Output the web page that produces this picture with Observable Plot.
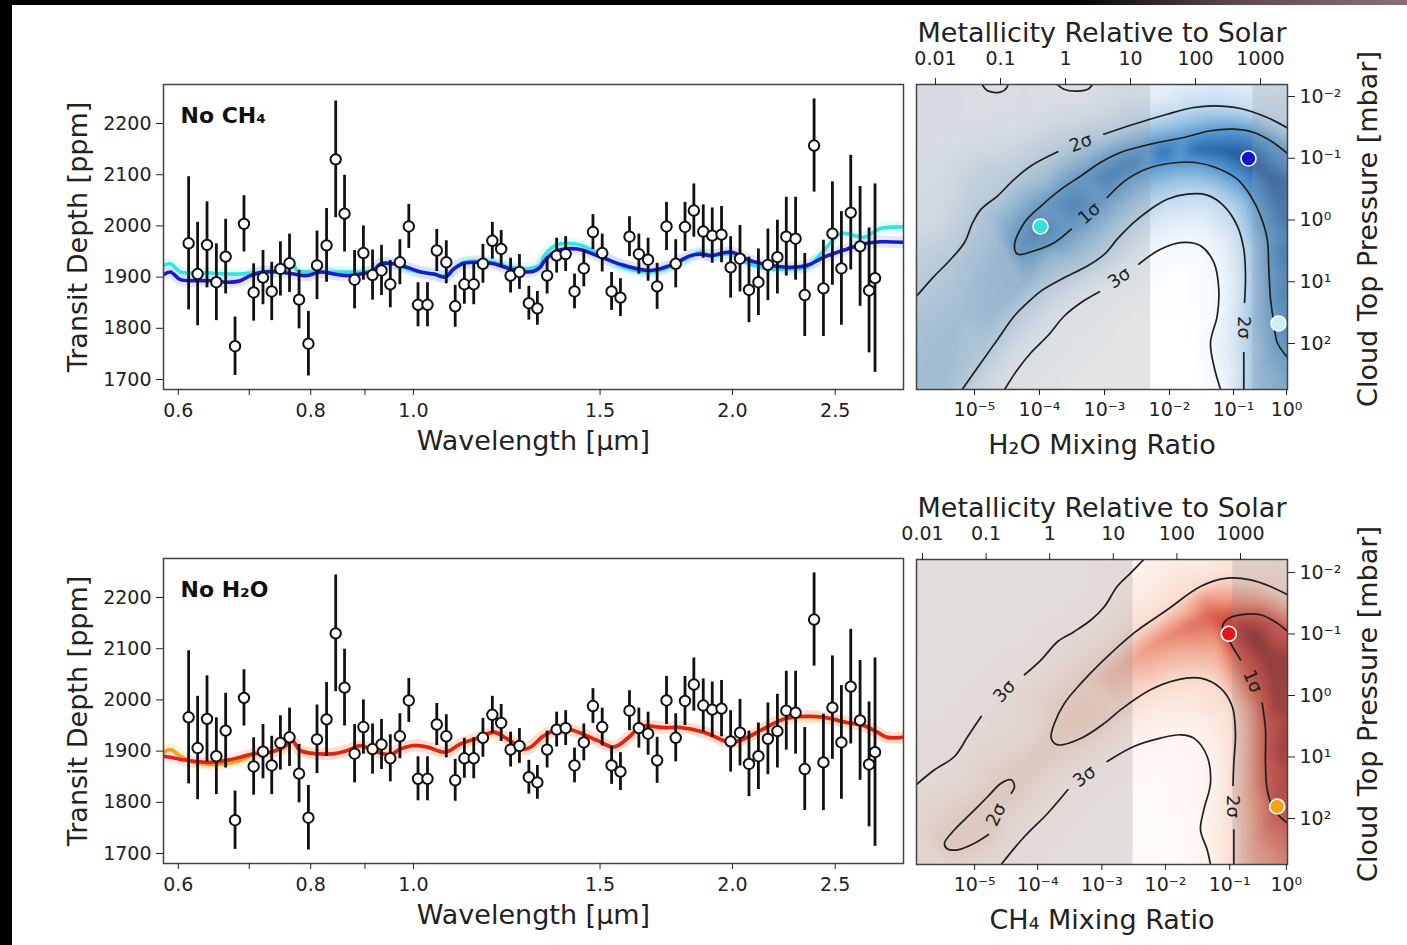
<!DOCTYPE html>
<html><head><meta charset="utf-8">
<script src="https://cdn.jsdelivr.net/npm/d3@7"></script>
<script src="https://cdn.jsdelivr.net/npm/@observablehq/plot@0.6"></script>
<style>
html,body{margin:0;padding:0;background:#000;width:1407px;height:945px;overflow:hidden;}
#page{position:absolute;left:12px;top:5px;width:1395px;height:940px;background:#fff;}
#topstrip{position:absolute;left:0;top:0;width:1407px;height:5px;background:linear-gradient(to right,#000 0%,#000 76%,#5e4a4e 88%,#8a7074 100%);}
.panel{position:absolute;}
.panel svg{overflow:visible;}
</style></head><body>
<div id="topstrip"></div><div id="page"></div>
<div id="tl" class="panel" style="left:40px;top:60px"></div>
<div id="bl" class="panel" style="left:40px;top:534px"></div>
<div id="tr" class="panel" style="left:905px;top:10px"></div>
<div id="br" class="panel" style="left:905px;top:484px"></div>
<script>
// ---------------- observed spectrum ----------------
const wavelength = [0.6136,0.6257,0.6386,0.6517,0.6650,0.6787,0.6920,0.7067,0.7212,0.7350,
 0.7490,0.7640,0.7800,0.7960,0.8110,0.8280,0.8446,0.8610,0.8800,0.8970,
 0.9150,0.9330,0.9510,0.9710,0.9900,1.0100,1.0310,1.0520,1.0740,1.0950,
 1.1170,1.1400,1.1630,1.1870,1.2100,1.2350,1.2590,1.2850,1.3090,1.3370,
 1.3650,1.3920,1.4190,1.4480,1.4770,1.5070,1.5380,1.5680,1.5990,1.6320,
 1.6650,1.6980,1.7330,1.7680,1.8040,1.8390,1.8770,1.9140,1.9530,1.9920,
 2.0330,2.0730,2.1160,2.1600,2.2050,2.2480,2.2940,2.3400,2.3880,2.4370,
 2.4850,2.5340,2.5860,2.6390,2.6910,2.7260];
const transitDepth = [1966,1906,1963,1890,1940,1765,2004,1870,1899,1872,
 1916,1927,1856,1770,1923,1962,2130,2024,1895,1947,
 1904,1913,1886,1929,1999,1846,1846,1952,1929,1843,
 1886,1886,1926,1971,1955,1903,1910,1849,1839,1903,
 1942,1945,1872,1917,1988,1947,1872,1860,1979,1945,
 1934,1882,1999,1926,1998,2030,1989,1981,1983,1919,
 1936,1875,1890,1924,1939,1979,1975,1865,2157,1878,
 1985,1917,2026,1960,1874,1898];
const depthError = [130,101,84,75,73,57,55,56,53,57,
 53,57,57,63,67,72,114,75,57,53,
 49,49,46,44,43,43,43,41,42,41,
 39,40,38,36,36,34,34,33,33,36,
 34,34,34,36,34,37,37,37,39,39,
 42,45,47,47,48,52,52,54,55,60,
 65,64,65,70,72,77,81,81,91,94,
 101,111,112,117,122,184];

// ---------------- model spectra [wavelength, depth] ----------------
const modelNoCH4Blue = [[0.577,1900],[0.5896,1910],[0.6026,1895],[0.6203,1893],[0.6432,1893],[0.667,1890],[0.6865,1893],[0.7017,1903],[0.7222,1910],[0.7489,1910],[0.771,1906],[0.7937,1903],[0.817,1910],[0.841,1906],[0.8657,1903],[0.8912,1906],[0.9174,1913],[0.9308,1926],[0.958,1926],[0.9863,1919],[1.0153,1910],[1.045,1906],[1.072,1900],[1.0917,1916],[1.1156,1927],[1.1568,1929],[1.1908,1926],[1.2347,1916],[1.2803,1910],[1.300,1912],[1.318,1920],[1.3275,1930],[1.3617,1950],[1.4274,1955],[1.4908,1942],[1.5796,1923],[1.674,1913],[1.748,1923],[1.826,1942],[1.866,1945],[1.907,1942],[1.992,1949],[2.080,1932],[2.173,1923],[2.2695,1919],[2.353,1923],[2.44,1939],[2.567,1955],[2.6615,1965],[2.76,1969],[2.893,1968]];
const modelNoCH4Cyan = [[0.577,1919],[0.5896,1926],[0.6026,1910],[0.6203,1908],[0.6432,1908],[0.667,1906],[0.6865,1906],[0.7017,1908],[0.7222,1910],[0.7489,1913],[0.760,1916],[0.768,1929],[0.777,1913],[0.7937,1910],[0.817,1910],[0.841,1910],[0.8657,1910],[0.8912,1910],[0.9174,1913],[0.9308,1926],[0.958,1926],[0.9863,1916],[1.0153,1910],[1.045,1906],[1.072,1903],[1.0917,1916],[1.1156,1929],[1.1568,1932],[1.1908,1929],[1.2347,1919],[1.2803,1916],[1.318,1925],[1.3275,1940],[1.3617,1962],[1.4274,1964],[1.4908,1947],[1.5796,1919],[1.674,1910],[1.748,1920],[1.826,1940],[1.866,1949],[1.907,1942],[1.992,1945],[2.080,1925],[2.173,1916],[2.2695,1916],[2.353,1920],[2.44,1952],[2.53,1985],[2.66,1978],[2.76,1995],[2.893,1998]];
const modelNoH2ORed = [[0.577,1891],[0.5896,1888],[0.6114,1882],[0.6432,1878],[0.667,1882],[0.6865,1888],[0.7067,1895],[0.7328,1898],[0.7543,1908],[0.768,1921],[0.7822,1901],[0.811,1895],[0.841,1895],[0.8657,1901],[0.8912,1911],[0.9174,1901],[0.951,1893],[0.972,1904],[1.0007,1911],[1.0302,1908],[1.072,1898],[1.1076,1914],[1.1485,1925],[1.1908,1937],[1.226,1924],[1.271,1904],[1.29,1908],[1.318,1925],[1.3275,1930],[1.3766,1944],[1.417,1940],[1.4908,1921],[1.5457,1908],[1.6027,1930],[1.638,1948],[1.7233,1946],[1.7868,1946],[1.8797,1937],[1.992,1917],[2.0656,1927],[2.1415,1944],[2.2368,1963],[2.353,1968],[2.44,1966],[2.567,1956],[2.6615,1950],[2.74,1937],[2.80,1927],[2.893,1927]];
const modelNoH2OOrange = [[0.577,1893],[0.5896,1903],[0.6026,1890],[0.6203,1878],[0.6432,1874],[0.667,1876],[0.6865,1882],[0.7067,1893],[0.7328,1898],[0.7543,1906],[0.768,1918],[0.7822,1901],[0.811,1895],[0.841,1895],[0.8657,1901],[0.8912,1910],[0.9174,1901],[0.951,1893],[0.972,1904],[1.0007,1911],[1.0302,1908],[1.072,1898],[1.1076,1914],[1.1485,1925],[1.1908,1936],[1.226,1924],[1.271,1904],[1.29,1908],[1.318,1925],[1.3275,1930],[1.3766,1944],[1.417,1940],[1.4908,1921],[1.5457,1908],[1.6027,1930],[1.638,1948],[1.7233,1946],[1.7868,1946],[1.8797,1937],[1.992,1917],[2.0656,1927],[2.1415,1944],[2.2368,1962],[2.353,1967],[2.44,1965],[2.567,1955],[2.6615,1949],[2.74,1936],[2.80,1926],[2.893,1926]];

// ---------------- spectrum axes ----------------
const specXTicks = [0.6,0.7,0.8,0.9,1.0,1.5,2.0,2.5];
const specXTickLabels = ["0.6","","0.8","","1.0","1.5","2.0","2.5"];
const specYTicks = [1700,1800,1900,2000,2100,2200];

// ---------------- posterior panels: x = log10 metallicity, y = log10 cloud-top pressure ----------------
const metalTicks = [-2,-1,0,1,2,3];
const metalTickLabels = ["0.01","0.1","1","10","100","1000"];
const pressureTicks = [-2,-1,0,1,2];
const pressureTickLabels = ["10⁻²","10⁻¹","10⁰","10¹","10²"];
const mixTickLabels = ["10⁻⁵","10⁻⁴","10⁻³","10⁻²","10⁻¹","10⁰"];
const h2oMixTicks = [-1.40,-0.40,0.60,1.60,2.585,3.40];
const ch4MixTicks = [-1.18,-0.19,0.82,1.82,2.83,3.72];
const priorBandEdges = [1.31, 2.88];

// H2O contours (segments of [logZ, logP]); level in sigma
const h2oContours = [
 {level:2, pts:[[-2.292,1.235],[-2.015,0.904],[-1.811,0.688],[-1.554,0.364],[-1.426,0.040],[-1.297,-0.175],[-1.042,-0.392],[-0.785,-0.661],[-0.528,-0.878],[-0.118,-1.104]]},
 {level:2, pts:[[0.589,-1.389],[1.051,-1.551],[1.565,-1.713],[1.974,-1.822],[2.282,-1.849],[2.692,-1.806],[3.103,-1.660],[3.415,-1.490]]},
 {level:1, pts:[[3.415,-1.077],[3.154,-1.283],[2.897,-1.417],[2.589,-1.470],[2.231,-1.445],[1.820,-1.336],[1.308,-1.228],[0.846,-1.093],[0.538,-0.931],[0.242,-0.716],[-0.066,-0.499],[-0.374,-0.230],[-0.631,0.040],[-0.785,0.418],[-0.734,0.554],[-0.477,0.499],[-0.169,0.364],[0.088,0.149]]},
 {level:1, pts:[[0.642,-0.364],[0.949,-0.661],[1.308,-0.850],[1.718,-0.931],[2.000,-0.931],[2.308,-0.850],[2.642,-0.661],[2.846,-0.392],[3.000,-0.068],[3.103,0.311],[3.128,0.797],[3.154,1.283],[3.205,1.660],[3.257,1.984],[3.415,2.227]]},
 {level:2, pts:[[-1.59,2.745],[-1.297,2.308],[-1.042,1.930],[-0.785,1.551],[-0.580,1.336],[-0.374,1.147],[-0.015,0.931],[0.343,0.742],[0.600,0.554],[0.795,0.311],[1.051,0.040],[1.308,-0.175],[1.565,-0.337],[1.872,-0.418],[2.180,-0.402],[2.435,-0.230],[2.642,0.094],[2.743,0.473],[2.769,0.904],[2.754,1.336]]},
 {level:2, pts:[[2.743,2.146],[2.743,2.745]]},
 {level:3, pts:[[-0.938,2.745],[-0.734,2.416],[-0.528,2.146],[-0.272,1.875],[-0.015,1.551],[0.242,1.336],[0.523,1.163]]},
 {level:3, pts:[[1.128,0.716],[1.462,0.473],[1.820,0.364],[2.077,0.418],[2.282,0.688],[2.358,1.121],[2.334,1.551],[2.231,1.984],[2.282,2.361],[2.385,2.745]]},
 {level:3, pts:[[-1.282,-2.194],[-1.205,-2.097],[-1.0,-2.070],[-0.897,-2.151],[-0.888,-2.194]]},
 {level:3, pts:[[-0.128,-2.194],[-0.026,-2.118],[0.180,-2.086],[0.358,-2.125],[0.411,-2.194]]}
];
// extra density knots [logZ, logP, sigma]
const h2oKnots = [
 [-2.4,-2.3,2.9],[-2.4,-1.0,2.8],[-2.4,0.3,2.5],[-2.4,1.25,2.0],[-2.4,2.0,1.75],[-2.4,2.85,1.7],
 [-1.9,2.85,1.7],[-1.25,2.85,2.5],[0,2.85,3.5],[1.0,2.85,3.6],[2.0,2.85,3.6],[2.56,2.85,2.5],[3.0,2.85,1.5],[3.5,2.85,1.2],
 [3.5,-2.3,2.5],[3.5,-1.49,2.0],[3.5,-1.077,1.0],[3.5,-0.6,0.3],[3.5,0.3,0.4],[3.5,1.2,0.55],[3.5,2.227,1.0],
 [-1.6,-2.3,2.9],[-1.09,-2.3,3.3],[-0.6,-2.3,2.9],[0.14,-2.3,3.3],[0.8,-2.3,2.9],[1.6,-2.3,2.7],[2.4,-2.3,2.6],
 [-1.8,-1.2,2.8],[-0.8,-1.5,2.8],[0.3,-1.8,2.7],[1.5,-2.0,2.5],[2.8,-2.05,2.4],[-2.0,0.0,2.6],
 [-0.62,0.38,0.75],[-0.4,0.12,0.5],[0.1,-0.23,0.5],[0.6,-0.66,0.45],[1.0,-0.9,0.45],[1.5,-1.07,0.35],[2.0,-1.15,0.3],[2.5,-1.12,0.15],[2.85,-0.98,0.0],[3.15,-0.7,0.1],[3.28,-0.2,0.3],[3.3,0.5,0.45],[3.3,1.2,0.55],[3.33,1.9,0.75],
 [-0.2,0.6,1.5],[0.5,0.2,1.5],[1.2,-0.45,1.5],[2.0,-0.67,1.5],[2.75,-0.3,1.5],[2.95,0.5,1.45],[2.95,1.5,1.45],[2.98,2.4,1.5],
 [-0.9,0.5,1.5],[-0.3,-0.56,1.5],[0.4,-1.07,1.5],[1.3,-1.43,1.5],[2.2,-1.65,1.5],[3.0,-1.53,1.5],
 [-1.8,2.3,1.65],[-1.2,1.6,1.6],[-1.6,1.5,1.7],[-0.6,1.0,1.5],
 [-1.2,2.6,2.5],[-0.5,1.68,2.5],[0.4,0.95,2.5],[1.3,0.2,2.5],[2.1,0.0,2.5],[2.52,0.7,2.5],[2.52,1.6,2.5],[2.55,2.45,2.5],
 [0.3,2.4,3.5],[1.2,1.5,3.55],[1.8,0.9,3.5],[1.9,2.0,3.6],[0.9,2.7,3.6]
];
const h2oLabels = [
 {u:0.235, lp:-1.247, t:"2σ", a:-21},{u:0.365, lp:-0.107, t:"1σ", a:-41},
 {u:0.826, lp:0.939, t:"3σ", a:-35},{u:2.746, lp:1.741, t:"2σ", a:90}
];
const h2oDots = [
 {u:-0.385, lp:0.105, c:"#38e2dc"},{u:2.815, lp:-0.996, c:"#1414d0"},{u:3.277, lp:1.676, c:"#cdeff1"}
];

// CH4 contours
const ch4Contours = [
 {level:3, pts:[[-2.094,1.447],[-1.811,1.208],[-1.497,0.992],[-1.288,0.667],[-1.077,0.341]]},
 {level:3, pts:[[-0.396,-0.337],[-0.134,-0.580],[0.127,-0.878],[0.390,-1.041],[0.653,-1.231],[0.862,-1.447],[1.061,-1.772],[1.270,-1.989],[1.480,-2.211]]},
 {level:2, pts:[[3.739,-1.637],[3.472,-1.772],[3.157,-1.881],[2.791,-1.907],[2.371,-1.772],[1.848,-1.393],[1.322,-1.013],[0.799,-0.525],[0.495,-0.200],[0.233,0.125],[0.075,0.450],[0.024,0.694],[0.127,0.802],[0.495,0.694],[0.862,0.450],[1.113,0.233],[1.585,-0.093],[2.005,-0.255],[2.371,-0.281],[2.686,-0.119],[2.870,0.179],[2.921,0.613],[2.895,1.101],[2.882,1.463]]},
 {level:2, pts:[[2.895,2.184],[2.895,2.748]]},
 {level:3, pts:[[-0.763,2.748],[-0.396,2.293],[-0.030,1.914],[0.285,1.533]]},
 {level:3, pts:[[0.904,1.073],[1.322,0.829],[1.742,0.694],[2.057,0.639],[2.266,0.694],[2.476,0.992],[2.528,1.426],[2.423,1.859],[2.371,2.184],[2.476,2.509],[2.528,2.748]]},
 {level:1, pts:[[3.739,-1.041],[3.577,-1.176],[3.314,-1.312],[3.0,-1.312],[2.811,-1.252],[2.717,-1.122],[2.843,-0.850],[3.0,-0.580]]},
 {level:1, pts:[[3.341,0.125],[3.393,0.558],[3.393,1.101],[3.420,1.533],[3.524,1.859],[3.739,2.076]]},
 {level:2, pts:[[-0.962,2.260],[-1.182,2.402],[-1.445,2.509],[-1.607,2.496],[-1.654,2.402],[-1.497,2.184],[-1.234,1.914],[-0.973,1.642],[-0.763,1.426],[-0.605,1.371],[-0.553,1.480],[-0.605,1.589]]}
];
const ch4Knots = [
 [-2.2,-2.3,3.5],[-2.2,-1.0,3.5],[-2.2,0.5,3.3],[-2.2,2.1,2.7],[-2.2,2.85,2.6],
 [-1.0,-2.3,3.5],[0.4,-2.3,3.4],[2.0,-2.3,2.6],[2.8,-2.3,2.4],[3.8,-2.3,2.4],
 [3.8,-1.3,1.5],[3.8,-0.6,0.25],[3.8,0.3,0.35],[3.8,1.2,0.5],[3.8,2.85,1.3],
 [-1.5,2.85,2.6],[0.2,2.85,3.5],[1.2,2.85,3.6],[2.0,2.85,3.5],[2.7,2.85,2.5],[3.3,2.85,1.5],
 [-1.5,-0.5,3.5],[-0.5,-1.2,3.5],[0.5,-1.8,3.4],[-1.8,0.5,3.3],
 [1.5,-1.7,2.5],[2.4,-2.05,2.4],[0.6,-0.75,2.5],[-0.3,-0.1,2.6],[-0.3,0.6,2.6],[-1.3,1.4,2.7],[-1.9,2.55,2.6],[-1.0,2.7,2.6],[0.6,1.0,2.5],
 [-1.2,2.15,2.0],[-0.85,1.8,2.05],
 [0.15,0.55,1.95],[0.5,0.25,1.9],[1.0,-0.35,1.7],[1.5,-0.75,1.45],[2.0,-1.05,1.3],[2.5,-1.3,1.15],[2.4,-1.6,1.5],[3.2,-1.58,1.5],[2.65,-0.8,1.5],[3.15,0.5,1.5],[3.15,1.5,1.5],[3.2,2.5,1.5],
 [3.0,-1.15,0.4],[3.2,-0.95,0.0],[3.45,-0.6,0.15],[3.55,0.2,0.3],[3.6,1.0,0.4],[3.62,1.7,0.6],
 [2.0,0.2,2.5],[1.2,0.5,2.5],[2.69,1.5,2.5],[2.65,2.5,2.5],
 [1.0,1.8,3.5],[1.7,1.3,3.5],[2.1,2.2,3.6],[0.5,2.5,3.5]
];
const ch4Labels = [
 {u:-0.711, lp:-0.065, t:"3σ", a:-48},{u:-0.841, lp:1.94, t:"2σ", a:-65},
 {u:0.547, lp:1.317, t:"3σ", a:-37},{u:2.874, lp:1.805, t:"2σ", a:90},{u:3.19, lp:-0.23, t:"1σ", a:66}
];
const ch4Dots = [{u:2.816, lp:-1.003, c:"#e3141c"},{u:3.577, lp:1.805, c:"#f2a516"}];

const sigmaLevels = [0,0.5,1,1.5,2,2.5,3,3.6];
const bluesRange = ["#1a4f8f","#3a7dbf","#5b9bd0","#94c0e2","#c2daef","#e2edf7","#f3f8fc","#ffffff"];
const redsRange = ["#7d1a1e","#b52d29","#d44a3b","#f0a08a","#f9dccf","#fcebe3","#fdf4ef","#fffaf8"];

const FONT = "DejaVu Sans";
const INK = "#222";

function spectrumPanel({models, tag, height, marginBottom}) {
  const spectrum = wavelength.map((w, i) => ({w, d: transitDepth[i], e: depthError[i]}));
  const marks = [];
  for (const m of models) marks.push(Plot.line(m.data, {x: d => d[0], y: d => d[1], stroke: m.band, strokeOpacity: 0.28, strokeWidth: 12, curve: "catmull-rom", clip: "frame"}));
  for (const m of models) marks.push(Plot.line(m.data, {x: d => d[0], y: d => d[1], stroke: m.color, strokeWidth: 3.6, curve: "catmull-rom", clip: "frame"}));
  marks.push(
    Plot.ruleX(spectrum, {x: "w", y1: d => d.d - d.e, y2: d => d.d + d.e, stroke: "#111", strokeWidth: 2.8}),
    Plot.dot(spectrum, {x: "w", y: "d", r: 5.2, fill: "white", stroke: "#111", strokeWidth: 2}),
    Plot.frame({stroke: "#444", strokeWidth: 1.5}),
    Plot.axisY({ticks: specYTicks, tickSize: 7, tickPadding: 5, label: null, tickFormat: d => String(d), fontSize: 19}),
    Plot.axisX({ticks: specXTicks, tickSize: 6, tickPadding: 8, label: null, tickFormat: d => specXTickLabels[specXTicks.indexOf(d)], fontSize: 19}),
    Plot.text([tag], {text: d => d, frameAnchor: "top-left", dx: 17, dy: 31, textAnchor: "start", lineAnchor: "middle", fontWeight: "bold", fontSize: 22, fill: "#111"}),
    Plot.text(["Transit Depth [ppm]"], {text: d => d, frameAnchor: "left", dx: -85, rotate: -90, textAnchor: "middle", lineAnchor: "middle", fontSize: 27, fill: INK}),
    Plot.text(["Wavelength [μm]"], {text: d => d, frameAnchor: "bottom", dy: 52, textAnchor: "middle", lineAnchor: "middle", fontSize: 27, fill: INK})
  );
  return Plot.plot({
    width: 880, height, marginLeft: 123, marginRight: 17, marginTop: 24, marginBottom,
    style: {fontFamily: FONT, fontSize: "19px", background: "transparent", overflow: "visible", color: INK},
    x: {type: "log", domain: [0.581, 2.90]},
    y: {domain: [1680.5, 2276.2]},
    marks
  });
}

function posteriorPanel({contours, knots, labels, dots, colors, mixTicks, xLabel, domainX, domainY, height, marginTop, marginBottom, grey, greyOpacity}) {
  const samples = knots.slice();
  const lines = [];
  contours.forEach((c, id) => c.pts.forEach(p => { samples.push([p[0], p[1], c.level]); lines.push({u: p[0], lp: p[1], id}); }));
  const rects = [{a: domainX[0], b: priorBandEdges[0]}, {a: priorBandEdges[1], b: domainX[1]}];
  const marks = [
    Plot.raster(samples, {x: d => d[0], y: d => d[1], fill: d => d[2], interpolate: "barycentric", x1: domainX[0], x2: domainX[1], y1: domainY[0], y2: domainY[1], blur: 3}),
    Plot.rect(rects, {x1: "a", x2: "b", y1: domainY[0], y2: domainY[1], fill: grey, fillOpacity: greyOpacity}),
    Plot.line(lines, {x: "u", y: "lp", z: "id", stroke: "#1e1e1e", strokeWidth: 1.7, curve: "catmull-rom", clip: "frame"}),
    Plot.text(labels, {x: "u", y: "lp", text: "t", rotate: "a", fontSize: 18, fill: "#1e1e1e"}),
    ...dots.map(d => Plot.dot([d], {x: "u", y: "lp", r: 7.5, fill: d.c, stroke: "white", strokeWidth: 1.6, clip: "frame"})),
    Plot.frame({stroke: "#444", strokeWidth: 1.5}),
    Plot.axisX({anchor: "top", ticks: metalTicks, tickFormat: d => metalTickLabels[metalTicks.indexOf(d)], tickSize: 7, tickPadding: 13, label: null, fontSize: 19}),
    Plot.axisX({anchor: "bottom", ticks: mixTicks, tickFormat: d => mixTickLabels[mixTicks.indexOf(d)], tickSize: 6, tickPadding: 7, label: null, fontSize: 19}),
    Plot.axisY({anchor: "right", ticks: pressureTicks, tickFormat: d => pressureTickLabels[pressureTicks.indexOf(d)], tickSize: 7, tickPadding: 5, label: null, fontSize: 19}),
    Plot.text(["Metallicity Relative to Solar"], {text: d => d, frameAnchor: "top", dy: -51, textAnchor: "middle", lineAnchor: "middle", fontSize: 27, fill: INK}),
    Plot.text([xLabel], {text: d => d, frameAnchor: "bottom", dy: 56, textAnchor: "middle", lineAnchor: "middle", fontSize: 27, fill: INK}),
    Plot.text(["Cloud Top Pressure [mbar]"], {text: d => d, frameAnchor: "right", dx: 81, dy: -8, rotate: -90, textAnchor: "middle", lineAnchor: "middle", fontSize: 27, fill: INK})
  ];
  return Plot.plot({
    width: 495, height, marginLeft: 11, marginRight: 113, marginTop, marginBottom,
    style: {fontFamily: FONT, fontSize: "19px", background: "transparent", overflow: "visible", color: INK},
    x: {domain: domainX},
    y: {domain: domainY, reverse: true},
    color: {type: "linear", domain: sigmaLevels, range: colors, clamp: true},
    marks
  });
}

try {
  document.getElementById("tl").append(spectrumPanel({
    tag: "No CH₄", height: 420, marginBottom: 91,
    models: [{data: modelNoCH4Cyan, color: "#36e2e0", band: "#9ff0f0"}, {data: modelNoCH4Blue, color: "#1a1acc", band: "#a8a8f5"}]
  }));
  document.getElementById("bl").append(spectrumPanel({
    tag: "No H₂O", height: 410, marginBottom: 81,
    models: [{data: modelNoH2OOrange, color: "#f6a21b", band: "#ffd27a"}, {data: modelNoH2ORed, color: "#e4201c", band: "#ffaaaa"}]
  }));
  document.getElementById("tr").append(posteriorPanel({
    contours: h2oContours, knots: h2oKnots, labels: h2oLabels, dots: h2oDots, colors: bluesRange,
    mixTicks: h2oMixTicks, xLabel: "H₂O Mixing Ratio", domainX: [-2.292, 3.415], domainY: [-2.194, 2.745],
    height: 470, marginTop: 74, marginBottom: 91, grey: "#969aa0", greyOpacity: 0.27
  }));
  document.getElementById("br").append(posteriorPanel({
    contours: ch4Contours, knots: ch4Knots, labels: ch4Labels, dots: ch4Dots, colors: redsRange,
    mixTicks: ch4MixTicks, xLabel: "CH₄ Mixing Ratio", domainX: [-2.094, 3.739], domainY: [-2.211, 2.748],
    height: 460, marginTop: 75, marginBottom: 80, grey: "#969492", greyOpacity: 0.27
  }));
} catch (e) {
  document.body.insertAdjacentHTML("beforeend", "<pre style='color:red;position:absolute;top:0;left:20px;z-index:9'>" + e.stack + "</pre>");
}
</script>
</body></html>
